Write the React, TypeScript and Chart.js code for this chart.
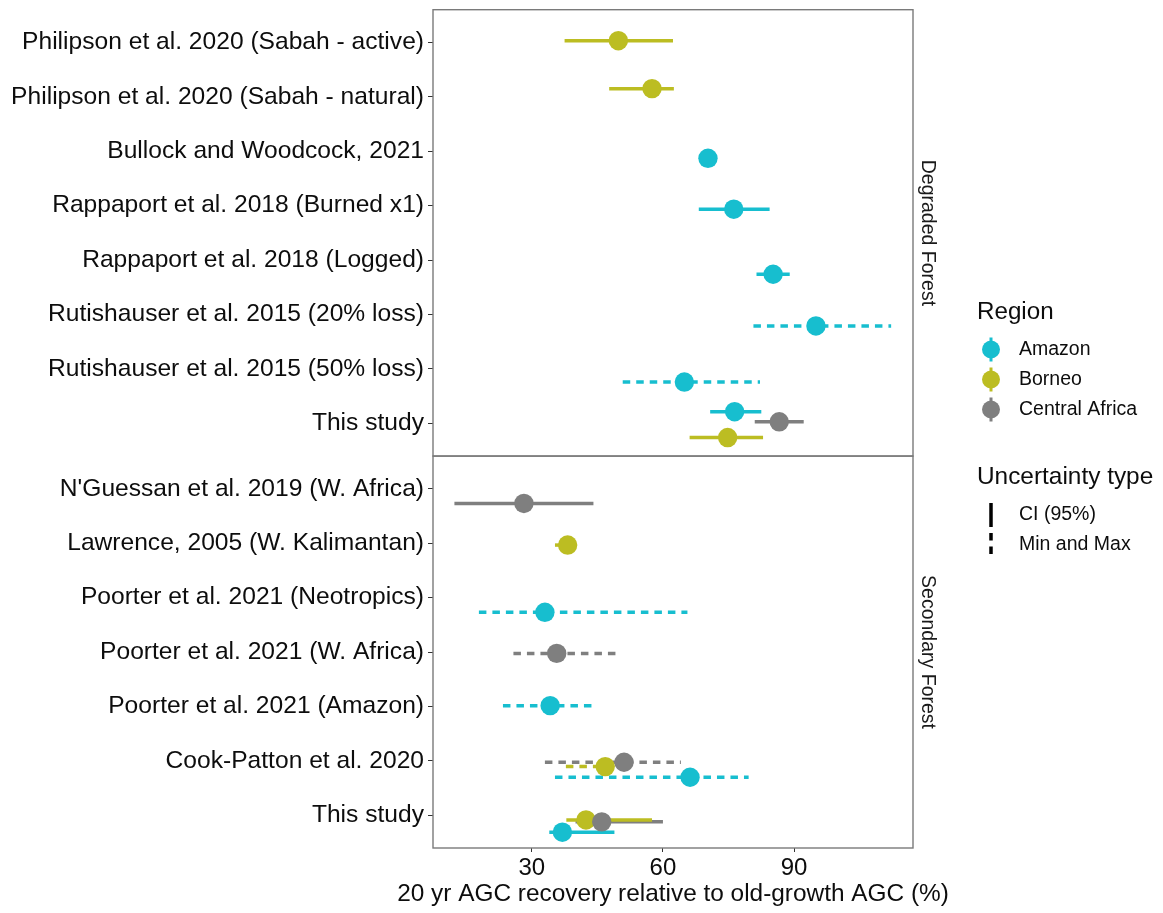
import React, { useEffect, useRef } from 'react';
import { Chart, registerables } from 'chart.js';

Chart.register(...registerables);

// ---------- data ----------
const degradedStudies = [
  'Philipson et al. 2020 (Sabah - active)',
  'Philipson et al. 2020 (Sabah - natural)',
  'Bullock and Woodcock, 2021',
  'Rappaport et al. 2018 (Burned x1)',
  'Rappaport et al. 2018 (Logged)',
  'Rutishauser et al. 2015 (20% loss)',
  'Rutishauser et al. 2015 (50% loss)',
  'This study',
];
const secondaryStudies = [
  "N'Guessan et al. 2019 (W. Africa)",
  'Lawrence, 2005 (W. Kalimantan)',
  'Poorter et al. 2021 (Neotropics)',
  'Poorter et al. 2021 (W. Africa)',
  'Poorter et al. 2021 (Amazon)',
  'Cook-Patton et al. 2020',
  'This study',
];
const panelNames = ['Degraded Forest', 'Secondary Forest'];
const regionNames = ['Amazon', 'Borneo', 'Central Africa'];
const regionColors = ['#17BECF', '#BCBD22', '#7F7F7F'];
const uncertaintyNames = ['CI (95%)', 'Min and Max'];
const xTickValues = [30, 60, 90];
const xTitle = '20 yr AGC recovery relative to old-growth AGC (%)';

// one entry per estimate
const recPanel = [0, 0, 0, 0, 0, 0, 0, 0, 0, 0, 1, 1, 1, 1, 1, 1, 1, 1, 1, 1, 1];
const recStudy = [0, 1, 2, 3, 4, 5, 6, 7, 7, 7, 0, 1, 2, 3, 4, 5, 5, 5, 6, 6, 6];
const recRegion = [1, 1, 0, 0, 0, 0, 0, 0, 2, 1, 2, 1, 0, 2, 0, 2, 1, 0, 1, 2, 0];
const recEstimate = [49.8, 57.5, 70.3, 76.2, 85.2, 95.0, 64.9, 76.4, 86.6, 74.8, 28.2, 38.2, 33.0, 35.7, 34.2, 51.1, 46.8, 66.2, 42.4, 46.0, 37.0];
const recLow = [37.5, 47.7, 69.5, 68.2, 81.4, 80.7, 50.8, 70.8, 81.0, 66.1, 12.3, 35.3, 17.9, 25.8, 23.4, 33.0, 37.8, 35.3, 37.9, 40.0, 34.0];
const recHigh = [62.3, 62.5, 71.0, 84.4, 89.0, 112.2, 82.2, 82.5, 92.2, 82.9, 44.1, 39.0, 65.6, 50.4, 44.7, 64.1, 52.0, 79.6, 57.5, 60.0, 48.9];
const recType = [0, 0, 0, 0, 0, 1, 1, 0, 0, 0, 0, 0, 1, 1, 1, 1, 1, 1, 0, 0, 0];
const recJitter = [-0.03, -0.15, 0.13, 0.065, 0.26, 0.21, 0.24, -0.215, -0.03, 0.26, 0.27, 0.035, 0.27, 0.025, -0.015, 0.025, 0.105, 0.3, 0.085, 0.12, 0.31];

// ---------- style ----------
const FONT = "'Liberation Sans', Arial, Helvetica, sans-serif";
const TEXT = '#0d0d0d';
const DASH = [7.5, 6];
const LINE_W = 3.5;
const POINT_R = 9.7;
const axisIds = ['yTop', 'yBot'];
const panelStudies = [degradedStudies, secondaryStudies];

const overlayPlugin = {
  id: 'overlay',
  afterDraw(chart: any) {
    const ctx = chart.ctx;
    const area = chart.chartArea;
    ctx.save();
    // panel borders + strips
    ctx.strokeStyle = '#7a7a7a';
    ctx.lineWidth = 1.4;
    axisIds.forEach((id, p) => {
      const s = chart.scales[id];
      ctx.strokeRect(area.left, s.top, area.right - area.left, s.bottom - s.top);
      ctx.save();
      ctx.translate(927.5, (s.top + s.bottom) / 2);
      ctx.rotate(Math.PI / 2);
      ctx.fillStyle = '#1a1a1a';
      ctx.font = `19.5px ${FONT}`;
      ctx.textAlign = 'center';
      ctx.textBaseline = 'middle';
      ctx.fillText(panelNames[p], 0, 0);
      ctx.restore();
    });
    // x axis title
    ctx.fillStyle = TEXT;
    ctx.font = `24.4px ${FONT}`;
    ctx.textAlign = 'center';
    ctx.textBaseline = 'middle';
    ctx.fillText(xTitle, (area.left + area.right) / 2, 894.5);
    // legend: Region
    const lx = 977;
    ctx.textAlign = 'left';
    ctx.font = `24.2px ${FONT}`;
    ctx.fillText('Region', lx, 312);
    regionNames.forEach((name, i) => {
      const cy = 349.5 + i * 30;
      ctx.strokeStyle = regionColors[i];
      ctx.lineWidth = 3;
      ctx.beginPath();
      ctx.moveTo(991, cy - 12);
      ctx.lineTo(991, cy + 12);
      ctx.stroke();
      ctx.fillStyle = regionColors[i];
      ctx.beginPath();
      ctx.arc(991, cy, 9, 0, Math.PI * 2);
      ctx.fill();
      ctx.fillStyle = TEXT;
      ctx.font = `19.5px ${FONT}`;
      ctx.fillText(name, 1019, cy);
    });
    ctx.font = `24.4px ${FONT}`;
    ctx.fillText('Uncertainty type', lx, 477);
    uncertaintyNames.forEach((name, i) => {
      const cy = 515 + i * 30;
      ctx.strokeStyle = '#000000';
      ctx.lineWidth = 3.5;
      ctx.setLineDash(i === 1 ? DASH : []);
      ctx.beginPath();
      ctx.moveTo(991, cy - 12);
      ctx.lineTo(991, cy + 12);
      ctx.stroke();
      ctx.setLineDash([]);
      ctx.fillStyle = TEXT;
      ctx.font = `19.5px ${FONT}`;
      ctx.fillText(name, 1019, cy);
    });
    ctx.restore();
  },
};

function yScale(p: number) {
  const labels = panelStudies[p];
  return {
    type: 'linear',
    position: 'left',
    stack: 'panels',
    stackWeight: labels.length + 0.2,
    reverse: true,
    min: -0.6,
    max: labels.length - 1 + 0.6,
    afterBuildTicks: (s: any) => {
      s.ticks = labels.map((_: string, i: number) => ({ value: i }));
    },
    afterFit: (s: any) => {
      s.width = 433;
      s.paddingTop = 0;
      s.paddingBottom = 0;
    },
    ticks: {
      autoSkip: false,
      padding: 4,
      color: TEXT,
      font: { family: FONT, size: 24.6 },
      callback: (v: number) => labels[Math.round(v)],
    },
    grid: { display: true, drawOnChartArea: false, drawTicks: true, tickLength: 5, color: '#333333', lineWidth: 1 },
    border: { display: false },
  };
}

export default function App() {
  const ref = useRef<HTMLCanvasElement>(null);
  useEffect(() => {
    document.body.style.margin = '0';
    const lineSets = recEstimate.map((_, i) => ({
      type: 'line',
      data: [
        { x: recLow[i], y: recStudy[i] + recJitter[i] },
        { x: recHigh[i], y: recStudy[i] + recJitter[i] },
      ],
      xAxisID: 'x',
      yAxisID: axisIds[recPanel[i]],
      borderColor: regionColors[recRegion[i]],
      borderWidth: LINE_W,
      borderDash: recType[i] === 1 ? DASH : [],
      borderCapStyle: 'butt',
      pointRadius: 0,
      fill: false,
      order: 10,
    }));
    const pointSets: any[] = [];
    [0, 1].forEach((p) => {
      regionNames.forEach((name, r) => {
        const data = recEstimate
          .map((v, i) => ({ i, v }))
          .filter(({ i }) => recPanel[i] === p && recRegion[i] === r)
          .map(({ i, v }) => ({ x: v, y: recStudy[i] + recJitter[i] }));
        pointSets.push({
          type: 'line',
          label: name,
          data,
          xAxisID: 'x',
          yAxisID: axisIds[p],
          showLine: false,
          pointRadius: POINT_R,
          pointBackgroundColor: regionColors[r],
          pointBorderWidth: 0,
          borderColor: regionColors[r],
          order: 3 - r,
        });
      });
    });
    const chart = new Chart(ref.current as HTMLCanvasElement, {
      type: 'line',
      data: { datasets: [...lineSets, ...pointSets] as any },
      options: {
        animation: false,
        responsive: false,
        maintainAspectRatio: false,
        layout: { padding: { left: 0, top: 9, right: 250, bottom: 0 } },
        plugins: { legend: { display: false }, tooltip: { enabled: false } },
        scales: {
          x: {
            type: 'linear',
            position: 'bottom',
            min: 7.4,
            max: 117.2,
            afterBuildTicks: (s: any) => {
              s.ticks = xTickValues.map((v) => ({ value: v }));
            },
            afterFit: (s: any) => {
              s.height = 65;
              s.paddingLeft = 0;
              s.paddingRight = 0;
            },
            ticks: { color: TEXT, padding: 2, font: { family: FONT, size: 24 } },
            grid: { display: true, drawOnChartArea: false, drawTicks: true, tickLength: 4, color: '#333333', lineWidth: 1 },
            border: { display: false },
          },
          yBot: yScale(1),
          yTop: yScale(0),
        } as any,
      },
      plugins: [overlayPlugin],
    } as any);
    return () => chart.destroy();
  }, []);
  return <canvas ref={ref} width={1163} height={913} style={{ display: 'block' }} />;
}
